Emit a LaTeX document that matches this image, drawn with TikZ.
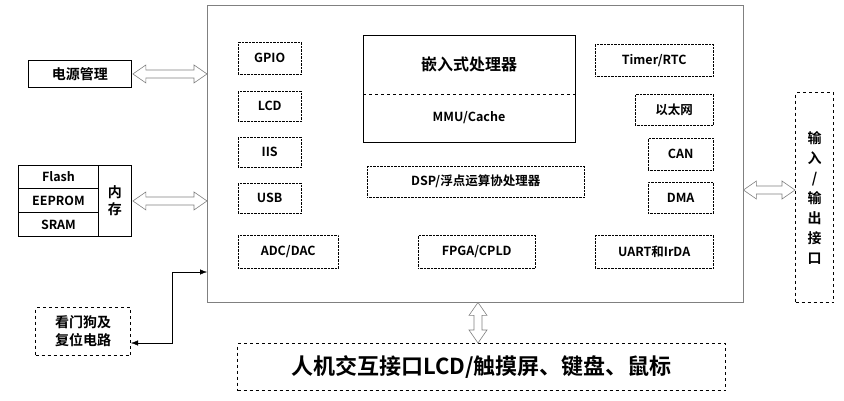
\documentclass[tikz,border=0pt]{standalone}
\usepackage{fontspec}
\setmainfont{Noto Sans CJK SC}[BoldFont={Noto Sans CJK SC Bold}]
\usetikzlibrary{arrows.meta,calc}
\newcommand\myharr[2]{\draw[gray,line width=0.6pt,fill=white] (#1) -- ($(#1)+(13,-9)$) -- ($(#1)+(13,-4)$) -- ($(#2)+(-13,-4)$) -- ($(#2)+(-13,-9)$) -- (#2) -- ($(#2)+(-13,9)$) -- ($(#2)+(-13,4)$) -- ($(#1)+(13,4)$) -- ($(#1)+(13,9)$) -- cycle;}
\newcommand\myvarr[2]{\draw[gray,line width=0.6pt,fill=white] (#1) -- ($(#1)+(-9,13)$) -- ($(#1)+(-4,13)$) -- ($(#2)+(-4,-13)$) -- ($(#2)+(-9,-13)$) -- (#2) -- ($(#2)+(9,-13)$) -- ($(#2)+(4,-13)$) -- ($(#1)+(4,13)$) -- ($(#1)+(9,13)$) -- cycle;}
\begin{document}
\begin{tikzpicture}[x=1pt,y=-1pt,
 box/.style={draw,line width=0.9pt,inner sep=0},
 dot/.style={draw,densely dotted,inner sep=0},
 dsh/.style={draw,dashed,line width=1pt,inner sep=0},
 lab/.style={font=\fontsize{12.5}{14}\selectfont\bfseries}]
\useasboundingbox (0,0) rectangle (844,400);
\node[draw=gray,minimum width=536,minimum height=297,inner sep=0,anchor=north west] (main) at (207,5) {};
% left
\node[box,minimum width=103,minimum height=27,anchor=north west,font=\fontsize{14}{16}\selectfont\bfseries] (pw) at (28,60) {电源管理};
\node[box,minimum width=80,minimum height=23,anchor=north west,lab] (fl) at (18,165) {Flash};
\node[box,minimum width=80,minimum height=24,anchor=north west,lab] (ee) at (18,188) {EEPROM};
\node[box,minimum width=80,minimum height=24,anchor=north west,lab] (sr) at (18,212) {SRAM};
\node[box,minimum width=33,minimum height=71,anchor=north west,align=center,font=\fontsize{14}{17}\selectfont\bfseries] (mem) at (98,165) {内\\存};
\node[dsh,minimum width=95,minimum height=48,anchor=north west,align=center,font=\fontsize{14}{18}\selectfont\bfseries] (wd) at (35,307) {看门狗及\\复位电路};
\node[dsh,minimum width=488,minimum height=47,anchor=north west,font=\fontsize{22}{24}\selectfont\bfseries] (hmi) at (237,343) {人机交互接口LCD/触摸屏、键盘、鼠标};
\node[dsh,minimum width=38,minimum height=210,anchor=north west,align=center,font=\fontsize{14}{20}\selectfont\bfseries] (io) at (795,92) {输\\入\\/\\输\\出\\接\\口};
% inner
\node[dot,minimum width=63,minimum height=32,anchor=north west,lab] (gpio) at (238,42) {GPIO};
\node[dot,minimum width=63,minimum height=30,anchor=north west,lab] (lcd) at (238,91) {LCD};
\node[dot,minimum width=63,minimum height=30,anchor=north west,lab] (iis) at (238,137) {IIS};
\node[dot,minimum width=63,minimum height=30,anchor=north west,lab] (usb) at (238,183) {USB};
\node[dot,minimum width=100,minimum height=33,anchor=north west,lab] (adc) at (238,235) {ADC/DAC};
\node[box,line width=0.6pt,minimum width=212,minimum height=107,anchor=north west] (cpu) at (363,35) {};
\draw[dashed,line width=1pt] (cpu.west |- 0,94) coordinate (dl) -- (cpu.east |- 0,94) coordinate (dr);
\node[font=\fontsize{16}{18}\selectfont\bfseries] (cpuT) at (469,64) {嵌入式处理器};
\node[lab] (mmu) at (469,118) {MMU/Cache};
\node[dot,minimum width=217,minimum height=31,anchor=north west,lab] (dsp) at (367,166) {DSP/浮点运算协处理器};
\node[dot,minimum width=117,minimum height=33,anchor=north west,lab] (fpga) at (418,235) {FPGA/CPLD};
\node[dot,minimum width=118,minimum height=32,anchor=north west,lab] (tim) at (595,44) {Timer/RTC};
\node[dot,minimum width=78,minimum height=31,anchor=north west,lab] (eth) at (635,94) {以太网};
\node[dot,minimum width=65,minimum height=32,anchor=north west,lab] (can) at (648,138) {CAN};
\node[dot,minimum width=65,minimum height=31,anchor=north west,lab] (dma) at (648,182) {DMA};
\node[dot,minimum width=118,minimum height=33,anchor=north west,lab] (uart) at (595,235) {UART和IrDA};
% arrows
\coordinate (a1) at ($(pw.east)+(1,0)$); \coordinate (a2) at (pw.east -| main.west);
\myharr{a1}{a2}
\coordinate (b1) at ($(mem.east)+(1,0)$); \coordinate (b2) at (mem.east -| main.west);
\myharr{b1}{b2}
\coordinate (c1) at (main.east |- 0,190); \coordinate (c2) at (io.west |- 0,190);
\myharr{c1}{c2}
\coordinate (d1) at (main.south -| 478,0); \coordinate (d2) at (hmi.north -| 478,0);
\myvarr{d1}{d2}
\coordinate (w1) at (172,272);
\draw[-{Latex[length=7pt]}] (w1) -- (w1 -| main.west);
\draw[-{Latex[length=7pt]}] (w1) -- (172,343) -- (wd.east |- 0,343);
\end{tikzpicture}
\end{document}
